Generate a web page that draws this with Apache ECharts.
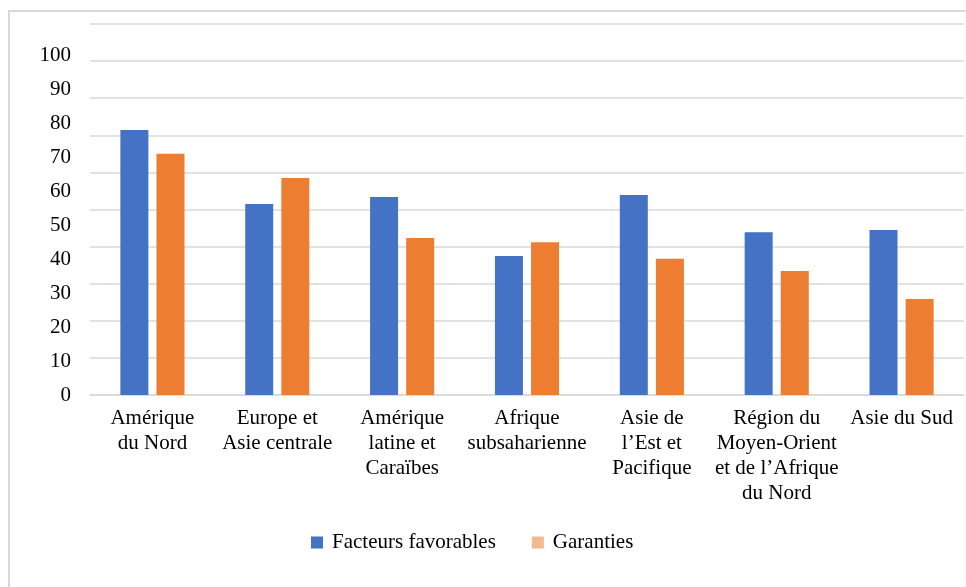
<!DOCTYPE html>
<html>
<head>
<meta charset="utf-8">
<script src="https://cdn.jsdelivr.net/npm/echarts@6/dist/echarts.min.js"></script>
<style>
  html, body { margin: 0; padding: 0; background: #ffffff; }
  #chart { width: 966px; height: 587px; }
</style>
</head>
<body>
<div id="chart"></div>
<script>
// Regions (line breaks as they wrap under the axis)
const regions = [
  'Amérique\ndu Nord',
  'Europe et\nAsie centrale',
  'Amérique\nlatine et\nCaraïbes',
  'Afrique\nsubsaharienne',
  'Asie de\nl’Est et\nPacifique',
  'Région du\nMoyen-Orient\net de l’Afrique\ndu Nord',
  'Asie du Sud'
];

// Scores per region
const facteursFavorables = [71.4, 51.5, 53.4, 37.5, 53.9, 43.9, 44.5];
const garanties = [65.0, 58.5, 42.3, 41.2, 36.7, 33.4, 25.9];

// Value-axis tick labels
const yTickLabels = [0, 10, 20, 30, 40, 50, 60, 70, 80, 90, 100];

const seriesNames = ['Facteurs favorables', 'Garanties'];

const FONT = '"Liberation Serif", "Times New Roman", serif';

const chart = echarts.init(document.getElementById('chart'), null, { renderer: 'canvas' });

chart.setOption({
  animation: false,
  backgroundColor: '#ffffff',
  textStyle: { fontFamily: FONT },
  graphic: [{
    type: 'rect',
    shape: { x: 9, y: 11, width: 1000, height: 1000 },
    style: { fill: 'none', stroke: '#d9d9d9', lineWidth: 2 },
    silent: true
  }],
  grid: { left: 90, right: 2, top: 24, bottom: 192, containLabel: false },
  legend: {
    left: 306,
    top: 527,
    icon: 'rect',
    itemWidth: 12,
    itemHeight: 12,
    itemGap: 36,
    textStyle: { fontFamily: FONT, fontSize: 21, color: '#000000', padding: [0, 0, 0, 4] },
    data: [
      { name: seriesNames[0] },
      { name: seriesNames[1], itemStyle: { color: '#f4b98f' } }
    ]
  },
  xAxis: {
    type: 'category',
    data: regions,
    axisLine: { show: true, lineStyle: { color: '#d9d9d9', width: 1.5 } },
    axisTick: { show: false },
    axisLabel: {
      interval: 0,
      margin: 11,
      fontFamily: FONT,
      fontSize: 21,
      lineHeight: 25,
      color: '#000000',
      align: 'center'
    }
  },
  yAxis: [
    {
      // scale for the bars and the gridlines
      type: 'value',
      min: 0,
      max: 100,
      interval: 10,
      axisLine: { show: false },
      axisTick: { show: false },
      axisLabel: { show: false },
      splitLine: { show: true, lineStyle: { color: '#d9d9d9', width: 1.5 } }
    },
    {
      // tick label column
      type: 'value',
      position: 'left',
      min: 0,
      max: 109.4,
      interval: 10,
      axisLine: { show: false },
      axisTick: { show: false },
      splitLine: { show: false },
      axisLabel: {
        margin: 19,
        fontFamily: FONT,
        fontSize: 21,
        color: '#000000',
        padding: [0, 0, 6, 0],
        formatter: function (v) {
          return yTickLabels.indexOf(v) >= 0 ? String(v) : '';
        }
      }
    }
  ],
  series: [
    {
      name: seriesNames[0],
      type: 'bar',
      yAxisIndex: 0,
      data: facteursFavorables,
      barWidth: 28,
      barGap: '29%',
      itemStyle: { color: '#4472c4' }
    },
    {
      name: seriesNames[1],
      type: 'bar',
      yAxisIndex: 0,
      data: garanties,
      barWidth: 28,
      barGap: '29%',
      itemStyle: { color: '#ed7d31' }
    }
  ]
});
</script>
</body>
</html>
